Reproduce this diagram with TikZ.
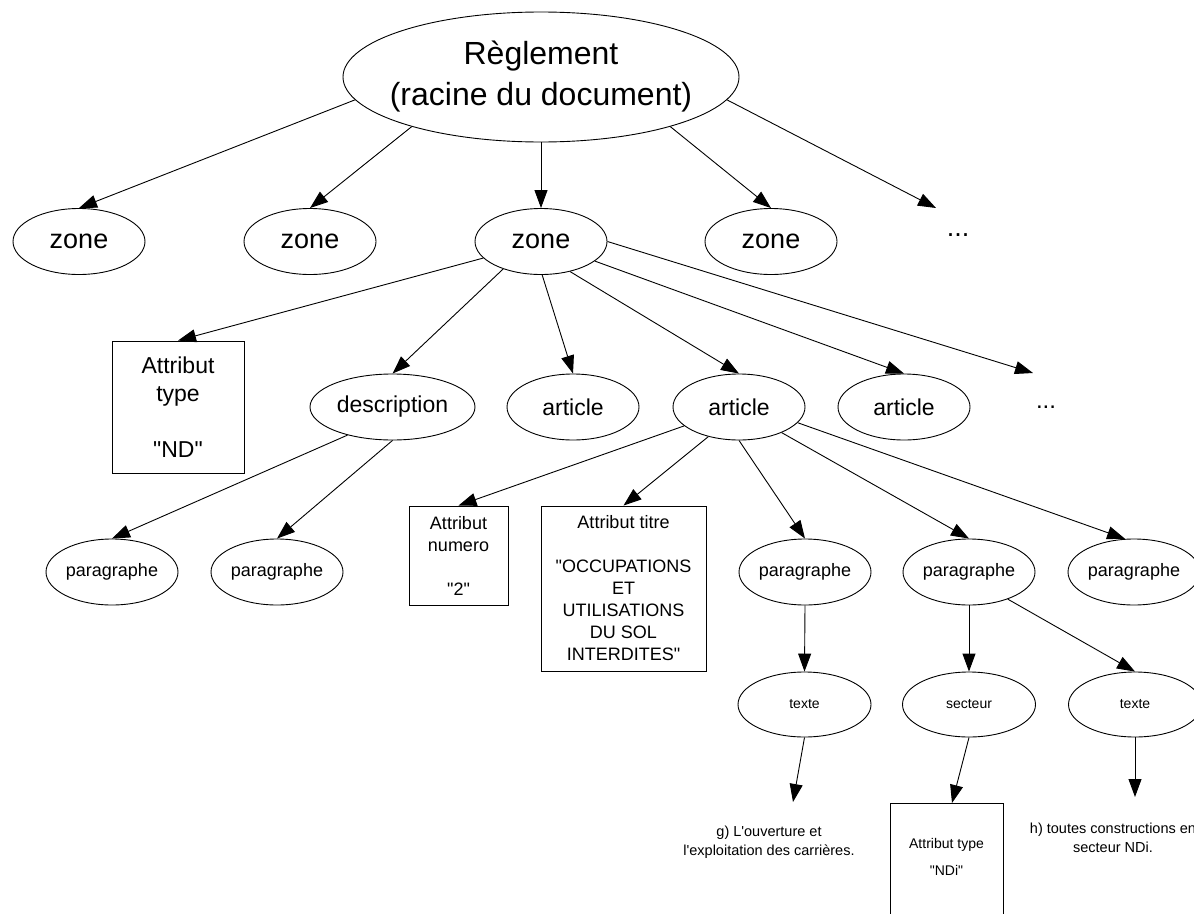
\documentclass[tikz,border=0pt]{standalone}
\usepackage{fontspec}
\newfontfamily\arial{Liberation Sans}
\usetikzlibrary{shapes.geometric,arrows.meta}
\newcommand\fsz[2]{\fontsize{#1}{#2}\selectfont}
\begin{document}
\begin{tikzpicture}[x=1pt,y=-1pt,line width=0.9pt,
  ell/.style={ellipse, draw, inner sep=0pt},
  zoneE/.style={ell, minimum width=132, minimum height=66, font=\arial\fsz{27}{32}},
  midE/.style={ell, minimum width=132, minimum height=66, font=\arial\fsz{23}{28}},
  parE/.style={ell, minimum width=132, minimum height=66, font=\arial\fsz{18}{22}},
  smallE/.style={ell, minimum width=133, minimum height=65, font=\arial\fsz{14}{17}},
  attr/.style={draw, rectangle, inner sep=0pt, align=center},
  plain/.style={inner sep=0pt, align=center},
  arr/.style={draw, -{Triangle[length=18pt,width=13pt]}}]
\useasboundingbox (0,0) rectangle (1194,913);

% root
\node[ell, minimum width=396, minimum height=130, font=\arial\fsz{32}{41}] (root) at (541,77)
  {\makebox[0pt]{\begin{tabular}{@{}c@{}}Règlement\\(racine du document)\end{tabular}}};

% zones
\node[zoneE] (z1) at (79,241.5) {zone};
\node[zoneE] (z2) at (310,241.5) {zone};
\node[zoneE] (z3) at (541,241.5) {zone};
\node[zoneE] (z4) at (771,241.5) {zone};
\node[plain, font=\arial\fsz{27}{32}, anchor=base] (d1) at (958,236) {...};
\coordinate (d1tip) at (936,208);

% level 2
\node[attr, minimum width=132, minimum height=132, font=\arial\fsz{23}{28}] (nd) at (178,407)
  {Attribut\\type\\\mbox{}\\"ND"};
\node[midE, minimum width=165] (desc) at (392.5,407) {description};
\node[midE] (a1) at (573,407) {article};
\node[midE] (a2) at (739,407) {article};
\node[midE] (a3) at (904,407) {article};
\node[plain, font=\arial\fsz{24}{28}, anchor=base] (d2) at (1046,408) {...};
\coordinate (d2tip) at (1033,373);

% level 3
\node[parE] (p1) at (112,572) {paragraphe};
\node[parE] (p2) at (277,572) {paragraphe};
\node[attr, minimum width=99, minimum height=99, font=\arial\fsz{18}{22}] (num) at (458.5,555.5)
  {Attribut\\numero\\\mbox{}\\"2"};
\node[attr, minimum width=165, minimum height=165, font=\arial\fsz{18}{22}] (tit) at (623.5,588.5)
  {Attribut titre\\\mbox{}\\"OCCUPATIONS\\ET\\UTILISATIONS\\DU SOL\\INTERDITES"};
\node[parE] (p3) at (805,572) {paragraphe};
\node[parE] (p4) at (969,572) {paragraphe};
\node[parE] (p5) at (1134,572) {paragraphe};

% level 4
\node[smallE] (t1) at (804.5,704.5) {texte};
\node[smallE] (sec) at (969,704.5) {secteur};
\node[smallE] (t2) at (1135,704.5) {texte};

% level 5
\node[plain, font=\arial\fsz{14.5}{19}] (g) at (769,842.5)
  {g) L'ouverture et\\l'exploitation des carrières.};
\coordinate (gtip) at (793,802);
\node[attr, minimum width=113, minimum height=134, anchor=north, font=\arial\fsz{14}{27}] (ndi) at (946.5,803)
  {Attribut type\\"NDi"\\\mbox{}};
\coordinate (ntip) at (952,803);
\node[plain, font=\arial\fsz{14.5}{19}] (h) at (1113,837.5)
  {h) toutes constructions en\\secteur NDi.};
\coordinate (htip) at (1135,797);

% edges
\draw[arr] (root.187) -- (z1.north);
\draw[arr] (root.201.3) -- (z2.north);
\draw[arr] (root.south) -- (z3.north);
\draw[arr] (root.339.8) -- (z4.north);
\draw[arr] (root.-7.1) -- (d1tip);

\draw[arr] (z3.196) -- (nd.north);
\draw[arr] (z3.216.4) -- (desc.north);
\draw[arr] (z3.-88) -- (a1.north);
\draw[arr] (z3.-46) -- (a2.north);
\draw[arr] (z3.-20.3) -- (a3.north);
\draw[arr] (z3.east) -- (d2tip);

\draw[arr] (desc.212.5) -- (p1.north);
\draw[arr] (desc.south) -- (p2.north);

\draw[arr] (a2.199.6) -- (num.north);
\draw[arr] (a2.224) -- (tit.north);
\draw[arr] (a2.south) -- (p3.north);
\draw[arr] (a2.-31.2) -- (p4.north);
\draw[arr] (a2.-15) -- (p5.105);

\draw[arr] (p3.south) -- (t1.north);
\draw[arr] (p4.south) -- (sec.north);
\draw[arr] (p4.-35.7) -- (t2.north);

\draw[arr] (t1.south) -- (gtip);
\draw[arr] (sec.south) -- (ntip);
\draw[arr] (t2.south) -- (htip);
\end{tikzpicture}
\end{document}
